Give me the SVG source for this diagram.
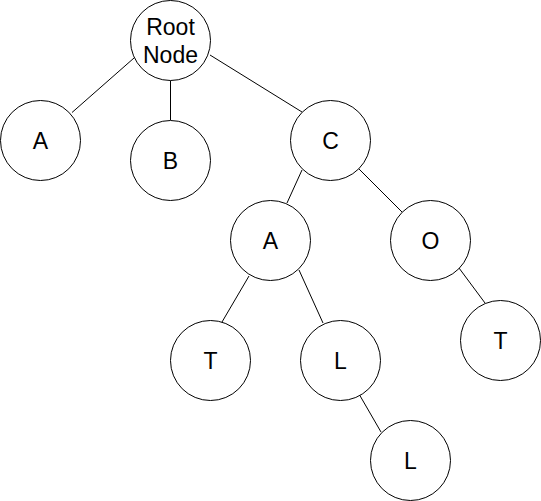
<svg xmlns="http://www.w3.org/2000/svg" width="541" height="501" viewBox="0 0 541 501">
<style>
.n{fill:#ffffff;stroke:#000000;stroke-width:1}
.e{stroke:#000000;stroke-width:1;fill:none}
.t{font-family:"Liberation Sans",Arial,sans-serif;font-size:23px;fill:#000000;text-anchor:middle}
</style>
<rect width="541" height="501" fill="#ffffff"/>
<g id="connectors">
<line class="e" x1="134" y1="58" x2="72" y2="112.5"/>
<line class="e" x1="170.5" y1="80.5" x2="170.5" y2="120"/>
<line class="e" x1="210" y1="55" x2="302" y2="112"/>
<line class="e" x1="302" y1="170" x2="287" y2="203"/>
<line class="e" x1="358" y1="168" x2="402" y2="212"/>
<line class="e" x1="249" y1="276" x2="222" y2="322"/>
<line class="e" x1="299" y1="270" x2="323" y2="323"/>
<line class="e" x1="459" y1="268" x2="485" y2="303"/>
<line class="e" x1="359" y1="394" x2="381" y2="432"/>
</g>
<g id="root"><circle class="n" cx="170.5" cy="40.5" r="40"/><text class="t" x="170.5" y="35">Root</text><text class="t" x="170.5" y="63">Node</text></g>
<g id="a1"><circle class="n" cx="40.5" cy="140.5" r="40"/><text class="t" x="40.5" y="149">A</text></g>
<g id="b"><circle class="n" cx="170.5" cy="160.5" r="40"/><text class="t" x="170.5" y="169">B</text></g>
<g id="c"><circle class="n" cx="330.5" cy="140.5" r="40"/><text class="t" x="330.5" y="149">C</text></g>
<g id="a2"><circle class="n" cx="270.5" cy="240.5" r="40"/><text class="t" x="270.5" y="249">A</text></g>
<g id="o"><circle class="n" cx="430.5" cy="240.5" r="40"/><text class="t" x="430.5" y="249">O</text></g>
<g id="t1"><circle class="n" cx="210.5" cy="360.5" r="40"/><text class="t" x="210.5" y="369">T</text></g>
<g id="l1"><circle class="n" cx="340.5" cy="360.5" r="40"/><text class="t" x="340.5" y="369">L</text></g>
<g id="t2"><circle class="n" cx="500.5" cy="340.5" r="40"/><text class="t" x="500.5" y="349">T</text></g>
<g id="l2"><circle class="n" cx="410.5" cy="460.5" r="40"/><text class="t" x="410.5" y="469">L</text></g>
</svg>
